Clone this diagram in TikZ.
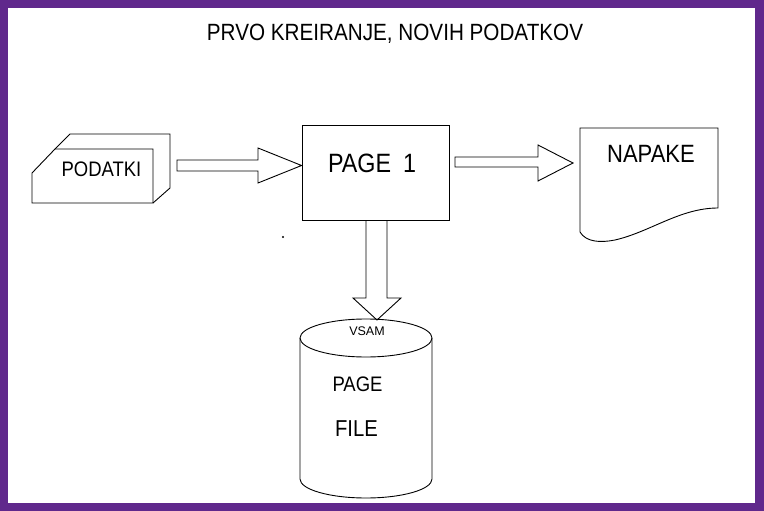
\documentclass[tikz,border=0pt]{standalone}
\usepackage{fontspec}
\setmainfont{Liberation Sans}
\newfontfamily\plotfont[FakeStretch=0.88]{Liberation Sans}
\definecolor{framepurple}{RGB}{96,40,140}
\begin{document}
\begin{tikzpicture}[x=1pt,y=-1pt,
  line/.style={draw=black, line width=0.9pt, line join=miter},
  txt/.style={inner sep=0pt, font=\plotfont, text=black}]
\useasboundingbox (0,0) rectangle (764,511);
% frame
\fill[framepurple] (0,0) rectangle (764,511);
\fill[white] (8,8) rectangle (755,503);
% title
\node[txt, font=\plotfont\fontsize{23.5}{26}\selectfont] (title) at (395,33.5) {PRVO KREIRANJE, NOVIH PODATKOV};
% PODATKI (card box)
\draw[line] (32,203) -- (32,173) -- (55,149) -- (153,149) -- (153,203) -- cycle;
\draw[line] (55,149) -- (70,134) -- (170,134) -- (170,188) -- (153,203);
\coordinate (podatkiE) at (170,165.5);
\node[txt, font=\plotfont\fontsize{21}{24}\selectfont] (podatki) at (101.5,169.5) {PODATKI};
% PAGE 1 box
\node[line, rectangle, minimum width=147pt, minimum height=95pt, inner sep=0pt] (page1) at (375.5,172.5) {};
\node[txt, font=\plotfont\fontsize{26.5}{30}\selectfont] (page1text) at (372,163) {PAGE\hspace{0.45em}1};
% NAPAKE document
\draw[line] (580,232) -- (580,128) -- (718,128) -- (718,208)
  .. controls (680,208) and (650,232) .. (615,240)
  .. controls (600,243) and (586,242) .. (580,232) -- cycle;
\node[txt, font=\plotfont\fontsize{25}{28}\selectfont] (napake) at (651,153.5) {NAPAKE};
% cylinder
\draw[line] (366,338) ellipse [x radius=66, y radius=19];
\draw[line] (300,338) -- (300,479) arc [start angle=180, end angle=0, x radius=66, y radius=19] -- (432,338);
\node[txt, font=\fontsize{12.5}{14}\selectfont] (vsam) at (367,331) {VSAM};
\node[txt, font=\plotfont\fontsize{21}{24}\selectfont] (page) at (357.5,384.5) {PAGE};
\node[txt, font=\plotfont\fontsize{23}{26}\selectfont] (file) at (356.5,428.5) {FILE};
% block arrows
\draw[line] (177,160) -- (258,160) -- (258,148) -- (page1.west |- 0,165.5) -- (258,183) -- (258,171) -- (177,171) -- cycle;
\draw[line] (455,157) -- (538,157) -- (538,145) -- (573,163) -- (538,181) -- (538,167) -- (455,167) -- cycle;
\draw[line] (366,220) -- (366,298) -- (353,298) -- (377,320) -- (401,298) -- (387,298) -- (387,220);
% stray dot
\fill (283,237) circle (1.2pt);
\end{tikzpicture}
\end{document}
